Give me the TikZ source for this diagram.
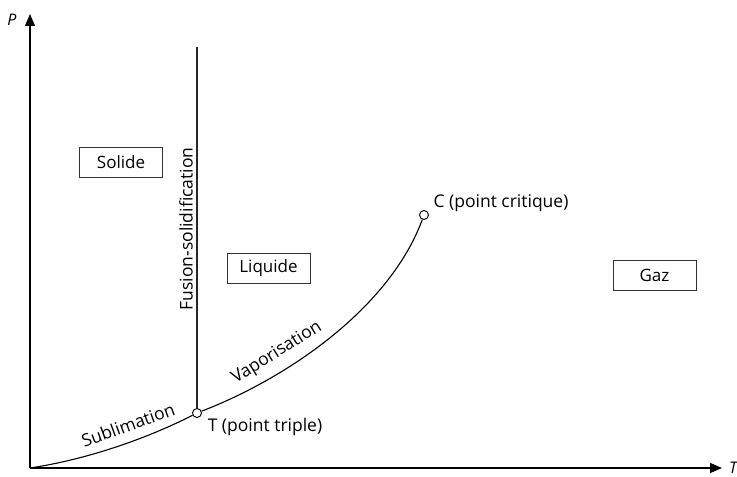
\documentclass[tikz,border=0pt]{standalone}
\usepackage{fontspec}
\setmainfont{Open Sans}
\setsansfont{Open Sans}
\usetikzlibrary{arrows.meta}
\begin{document}
\begin{tikzpicture}[x=1pt,y=1pt,
  font=\fontsize{17.5}{19}\selectfont,
  axis/.style={line width=1.2pt,-{Triangle[length=12pt,width=10pt]}},
  curve/.style={line width=1.1pt},
  phase/.style={draw=black!80,line width=0.9pt,minimum width=83pt,minimum height=30pt,inner sep=0pt,font=\fontsize{17}{19}\selectfont},
  pt/.style={circle,draw,fill=white,line width=0.9pt,minimum size=9pt,inner sep=0pt}]
\useasboundingbox (0,0) rectangle (737,477);
\coordinate (O) at (30,9);
\coordinate (ytip) at (30,463);
\coordinate (xtip) at (722,9);
\coordinate (top) at (197,430);
\draw[axis] (O) -- (ytip);
\draw[axis] (O) -- (xtip);
\node[font=\fontsize{16}{18}\selectfont\itshape] (Plab) at (12,457) {P};
\node[font=\fontsize{16}{18}\selectfont\itshape] (Tlab) at (733,9) {T};
\node[pt] (T) at (197,64) {};
\node[pt] (C) at (424,262) {};
\draw[curve] (O) .. controls (90,18) and (150,40) .. (T);
\draw[curve] (T) .. controls (290,100) and (390,170) .. (C);
\draw[line width=1.2pt,black!85] (T) -- (top);
\node[phase] (sol) at (121,315) {Solide};
\node[phase] (liq) at (268.5,208.5) {Liquide};
\node[phase] (gaz) at (654.5,202) {Gaz};
\node[rotate=90] (fus) at (186,248) {Fusion-solidification};
\node[rotate=20] (sub) at (128,52) {Sublimation};
\node[rotate=32] (vap) at (277,124) {Vaporisation};
\node (tl) at (265,50) {T (point triple)};
\node (cl) at (501,274) {C (point critique)};
\end{tikzpicture}
\end{document}
